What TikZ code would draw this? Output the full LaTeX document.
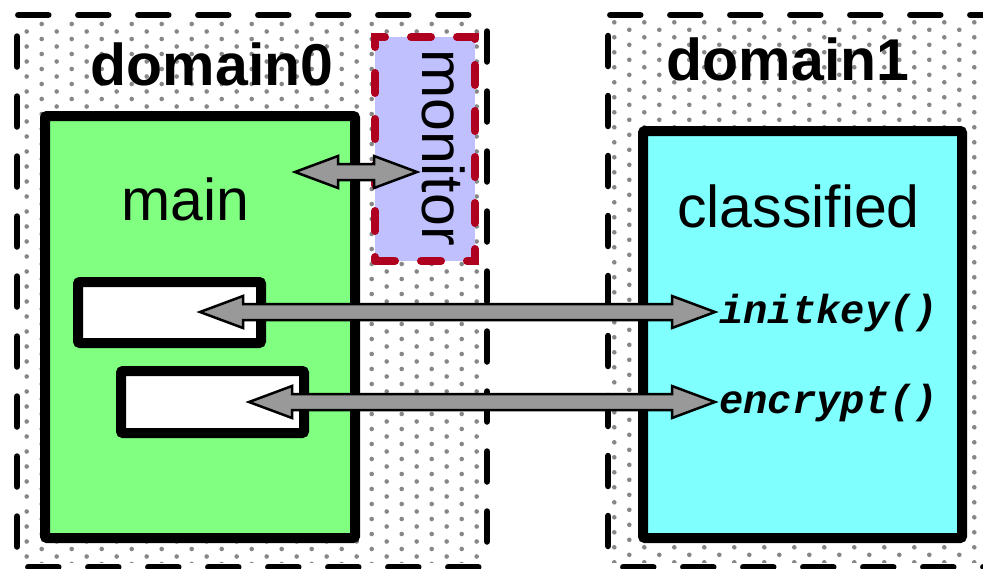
\documentclass[tikz,border=0pt]{standalone}
\usepackage{fontspec}
\setmainfont{Liberation Sans}
\newfontfamily\monofont{Liberation Mono}
\usetikzlibrary{calc}
\definecolor{maingreen}{RGB}{128,255,128}
\definecolor{clcyan}{RGB}{128,255,255}
\definecolor{monblue}{RGB}{192,192,255}
\definecolor{monred}{RGB}{176,0,32}
\definecolor{arrgray}{RGB}{153,153,153}
\definecolor{dotgray}{RGB}{135,135,135}
\tikzset{
 dombord/.style={line width=6.5pt, line cap=round, dash pattern=on 30pt off 30pt},
 procbox/.style={draw, line width=10pt, rounded corners=2pt, inner sep=0pt, outer sep=0pt, anchor=north west},
 slotbox/.style={draw, fill=white, line width=10pt, rounded corners=2pt, inner sep=0pt, outer sep=0pt, anchor=north west},
 monbox/.style={draw=monred, fill=monblue, line width=8pt, line cap=round, dash pattern=on 20pt off 26pt, inner sep=0pt, outer sep=0pt, anchor=north west},
 blockarr/.style={draw=black, fill=arrgray, line width=2.5pt, line join=miter},
 bigtxt/.style={font=\fontsize{59}{59}\selectfont, inner sep=0pt, anchor=base},
 domtxt/.style={font=\fontsize{59}{59}\selectfont\bfseries, inner sep=0pt, anchor=base},
 fntxt/.style={font=\fontsize{40.5}{40.5}\selectfont\monofont\bfseries\itshape, inner sep=0pt, anchor=base west},
 dotfill/.style={fill=dotgray},
}
\newcommand\blockarrow[2]{\path[blockarr] let \p1=(#1), \p2=(#2) in (\x1,\y1) -- (\x1+43pt,\y1+16pt) -- (\x1+43pt,\y1+8pt) -- (\x2-43pt,\y2+8pt) -- (\x2-43pt,\y2+16pt) -- (\x2,\y2) -- (\x2-43pt,\y2-16pt) -- (\x2-43pt,\y2-8pt) -- (\x1+43pt,\y1-8pt) -- (\x1+43pt,\y1-16pt) -- cycle;}
\begin{document}
\begin{tikzpicture}[x=1pt,y=-1pt]
\useasboundingbox (0,0) rectangle (983,568);
\clip (0,0) rectangle (983,568);
\fill[white] (0,0) rectangle (983,568);
% dotted backgrounds
\begin{scope}
\clip (20,19) rectangle (482,562);
\foreach \i in {0,...,72}{\foreach \j in {0,...,16}{\fill[dotfill] ({11.7+30*\j+15*mod(\i,2)},{24+7.5*\i}) circle (2.3pt);}}
\end{scope}
\begin{scope}
\clip (612,19) rectangle (983,562);
\foreach \j in {0,...,25}{\foreach \i in {0,...,36}{\fill[dotfill] ({614.3+15*\j},{22.3+15*\i+7.5*mod(\j,2)}) circle (2.3pt);}}
\end{scope}
% domain borders
\draw[dombord] (18.3,15) -- (487,15);
\draw[dombord] (17,36.5) -- (17,570);
\draw[dombord] (487,31.5) -- (487,570);
\draw[dombord] (28.3,567) -- (487,567);
\draw[dombord] (610.3,15) -- (995,15);
\draw[dombord] (608,36) -- (608,570);
\draw[dombord] (623.3,567) -- (995,567);
% boxes
\node[procbox, fill=maingreen, minimum width=310pt, minimum height=422pt] (main) at (45,116) {};
\node[slotbox, minimum width=183pt, minimum height=61pt] (slotA) at (78,282) {};
\node[slotbox, minimum width=183pt, minimum height=62pt] (slotB) at (121,371) {};
\node[procbox, fill=clcyan, minimum width=319pt, minimum height=407pt] (classified) at (643,131) {};
\node[monbox, minimum width=100pt, minimum height=224pt] (monitor) at (375,37) {};
% texts
\node[domtxt] (d0) at (212,85) {domain0};
\node[domtxt] (d1) at (788,80) {domain1};
\node[bigtxt] (maintxt) at (185.5,220) {main};
\node[bigtxt] (cltxt) at (798.5,227) {classified};
\node[bigtxt, rotate=-90] (montxt) at (422,147.5) {monitor};
\node[fntxt] (initkey) at (719,323) {initkey()};
\node[fntxt] (encrypt) at (719,413) {encrypt()};
% arrows
\coordinate (mainin) at (295,172);
\coordinate (monin) at (417,172);
\coordinate (slotAin) at (200,312);
\coordinate (initkeyend) at (715,312);
\coordinate (slotBin) at (249,402);
\coordinate (encryptend) at (715,402);
\blockarrow{mainin}{monin}
\blockarrow{slotAin}{initkeyend}
\blockarrow{slotBin}{encryptend}
\end{tikzpicture}
\end{document}
